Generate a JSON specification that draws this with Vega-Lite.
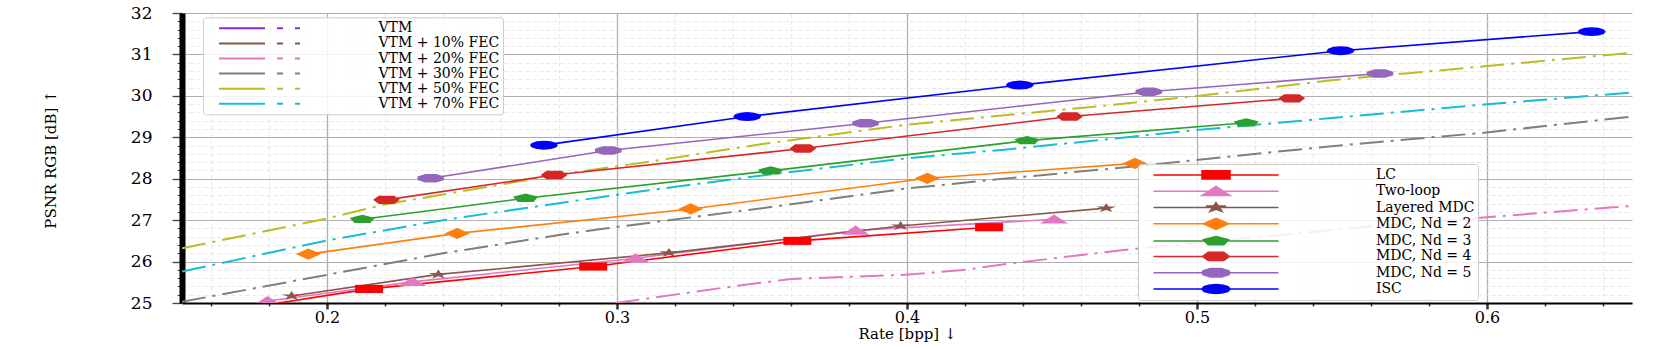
{
  "$schema": "https://vega.github.io/schema/vega-lite/v6.json",
  "width": 1450,
  "height": 290,
  "autosize": {"type": "none"},
  "padding": {"left": 182, "top": 13, "right": 30, "bottom": 46},
  "background": "white",
  "config": {"view": {"stroke": null}, "font": "DejaVu Serif"},
  "datasets": {
    "methods": [
      {"series": "LC", "rate": 0.165, "psnr": 24.8},
      {"series": "LC", "rate": 0.2145, "psnr": 25.34},
      {"series": "LC", "rate": 0.2918, "psnr": 25.88},
      {"series": "LC", "rate": 0.3622, "psnr": 26.5},
      {"series": "LC", "rate": 0.4283, "psnr": 26.83},
      {"series": "Two-loop", "rate": 0.1795, "psnr": 25.05},
      {"series": "Two-loop", "rate": 0.2294, "psnr": 25.51},
      {"series": "Two-loop", "rate": 0.3064, "psnr": 26.08},
      {"series": "Two-loop", "rate": 0.3823, "psnr": 26.75},
      {"series": "Two-loop", "rate": 0.4507, "psnr": 27.02},
      {"series": "Layered MDC", "rate": 0.1878, "psnr": 25.17},
      {"series": "Layered MDC", "rate": 0.2384, "psnr": 25.69},
      {"series": "Layered MDC", "rate": 0.3179, "psnr": 26.21},
      {"series": "Layered MDC", "rate": 0.3978, "psnr": 26.86},
      {"series": "Layered MDC", "rate": 0.4687, "psnr": 27.29},
      {"series": "MDC, Nd = 2", "rate": 0.1936, "psnr": 26.18},
      {"series": "MDC, Nd = 2", "rate": 0.2449, "psnr": 26.68},
      {"series": "MDC, Nd = 2", "rate": 0.3254, "psnr": 27.27},
      {"series": "MDC, Nd = 2", "rate": 0.407, "psnr": 28.01},
      {"series": "MDC, Nd = 2", "rate": 0.4786, "psnr": 28.37},
      {"series": "MDC, Nd = 3", "rate": 0.2122, "psnr": 27.02},
      {"series": "MDC, Nd = 3", "rate": 0.2685, "psnr": 27.53},
      {"series": "MDC, Nd = 3", "rate": 0.353, "psnr": 28.19},
      {"series": "MDC, Nd = 3", "rate": 0.4414, "psnr": 28.92},
      {"series": "MDC, Nd = 3", "rate": 0.517, "psnr": 29.35},
      {"series": "MDC, Nd = 4", "rate": 0.2205, "psnr": 27.49},
      {"series": "MDC, Nd = 4", "rate": 0.2783, "psnr": 28.09},
      {"series": "MDC, Nd = 4", "rate": 0.3641, "psnr": 28.73},
      {"series": "MDC, Nd = 4", "rate": 0.4561, "psnr": 29.5},
      {"series": "MDC, Nd = 4", "rate": 0.5327, "psnr": 29.94},
      {"series": "MDC, Nd = 5", "rate": 0.2358, "psnr": 28.01},
      {"series": "MDC, Nd = 5", "rate": 0.297, "psnr": 28.68},
      {"series": "MDC, Nd = 5", "rate": 0.3857, "psnr": 29.34},
      {"series": "MDC, Nd = 5", "rate": 0.4834, "psnr": 30.1},
      {"series": "MDC, Nd = 5", "rate": 0.5631, "psnr": 30.54},
      {"series": "ISC", "rate": 0.2748, "psnr": 28.81},
      {"series": "ISC", "rate": 0.3449, "psnr": 29.5},
      {"series": "ISC", "rate": 0.4389, "psnr": 30.26},
      {"series": "ISC", "rate": 0.5495, "psnr": 31.09},
      {"series": "ISC", "rate": 0.6361, "psnr": 31.55}
    ],
    "vtm": [
      {"fec": "VTM + 50% FEC", "rate": 0.15, "psnr": 26.32},
      {"fec": "VTM + 50% FEC", "rate": 0.2, "psnr": 27.04},
      {"fec": "VTM + 50% FEC", "rate": 0.22, "psnr": 27.38},
      {"fec": "VTM + 50% FEC", "rate": 0.24, "psnr": 27.62},
      {"fec": "VTM + 50% FEC", "rate": 0.28, "psnr": 28.1},
      {"fec": "VTM + 50% FEC", "rate": 0.311, "psnr": 28.41},
      {"fec": "VTM + 50% FEC", "rate": 0.3513, "psnr": 28.85},
      {"fec": "VTM + 50% FEC", "rate": 0.3995, "psnr": 29.3},
      {"fec": "VTM + 50% FEC", "rate": 0.4317, "psnr": 29.52},
      {"fec": "VTM + 50% FEC", "rate": 0.4662, "psnr": 29.75},
      {"fec": "VTM + 50% FEC", "rate": 0.4993, "psnr": 29.99},
      {"fec": "VTM + 50% FEC", "rate": 0.5469, "psnr": 30.38},
      {"fec": "VTM + 50% FEC", "rate": 0.6, "psnr": 30.72},
      {"fec": "VTM + 50% FEC", "rate": 0.65, "psnr": 31.04},
      {"fec": "VTM + 70% FEC", "rate": 0.15, "psnr": 25.76},
      {"fec": "VTM + 70% FEC", "rate": 0.2, "psnr": 26.51},
      {"fec": "VTM + 70% FEC", "rate": 0.24, "psnr": 27.0},
      {"fec": "VTM + 70% FEC", "rate": 0.28, "psnr": 27.41},
      {"fec": "VTM + 70% FEC", "rate": 0.311, "psnr": 27.72},
      {"fec": "VTM + 70% FEC", "rate": 0.3513, "psnr": 28.09},
      {"fec": "VTM + 70% FEC", "rate": 0.3995, "psnr": 28.49},
      {"fec": "VTM + 70% FEC", "rate": 0.4317, "psnr": 28.69},
      {"fec": "VTM + 70% FEC", "rate": 0.4662, "psnr": 28.93},
      {"fec": "VTM + 70% FEC", "rate": 0.4993, "psnr": 29.17},
      {"fec": "VTM + 70% FEC", "rate": 0.5455, "psnr": 29.46},
      {"fec": "VTM + 70% FEC", "rate": 0.599, "psnr": 29.79},
      {"fec": "VTM + 70% FEC", "rate": 0.65, "psnr": 30.08},
      {"fec": "VTM + 30% FEC", "rate": 0.15, "psnr": 25.03},
      {"fec": "VTM + 30% FEC", "rate": 0.2, "psnr": 25.68},
      {"fec": "VTM + 30% FEC", "rate": 0.24, "psnr": 26.2},
      {"fec": "VTM + 30% FEC", "rate": 0.28, "psnr": 26.64},
      {"fec": "VTM + 30% FEC", "rate": 0.2938, "psnr": 26.78},
      {"fec": "VTM + 30% FEC", "rate": 0.3513, "psnr": 27.3},
      {"fec": "VTM + 30% FEC", "rate": 0.3995, "psnr": 27.76},
      {"fec": "VTM + 30% FEC", "rate": 0.4317, "psnr": 27.99},
      {"fec": "VTM + 30% FEC", "rate": 0.4835, "psnr": 28.33},
      {"fec": "VTM + 30% FEC", "rate": 0.4993, "psnr": 28.45},
      {"fec": "VTM + 30% FEC", "rate": 0.5455, "psnr": 28.78},
      {"fec": "VTM + 30% FEC", "rate": 0.599, "psnr": 29.11},
      {"fec": "VTM + 30% FEC", "rate": 0.65, "psnr": 29.5},
      {"fec": "VTM + 20% FEC", "rate": 0.2995, "psnr": 25.0},
      {"fec": "VTM + 20% FEC", "rate": 0.3398, "psnr": 25.4},
      {"fec": "VTM + 20% FEC", "rate": 0.36, "psnr": 25.58},
      {"fec": "VTM + 20% FEC", "rate": 0.3995, "psnr": 25.68},
      {"fec": "VTM + 20% FEC", "rate": 0.4202, "psnr": 25.8},
      {"fec": "VTM + 20% FEC", "rate": 0.4317, "psnr": 25.92},
      {"fec": "VTM + 20% FEC", "rate": 0.4662, "psnr": 26.21},
      {"fec": "VTM + 20% FEC", "rate": 0.479, "psnr": 26.31},
      {"fec": "VTM + 20% FEC", "rate": 0.56, "psnr": 26.85},
      {"fec": "VTM + 20% FEC", "rate": 0.6435, "psnr": 27.31},
      {"fec": "VTM + 20% FEC", "rate": 0.65, "psnr": 27.34}
    ]
  },
  "encoding": {
    "x": {
      "field": "rate", "type": "quantitative", "title": "Rate [bpp] ↓",
      "scale": {"domain": [0.15, 0.65], "nice": false, "zero": false},
      "axis": {
        "values": [0.16, 0.18, 0.2, 0.22, 0.24, 0.26, 0.28, 0.3, 0.32, 0.34, 0.36, 0.38, 0.4, 0.42, 0.44, 0.46, 0.48, 0.5, 0.52, 0.54, 0.56, 0.58, 0.6, 0.62, 0.64],
        "labelExpr": "abs(datum.value*10 - round(datum.value*10)) < 0.001 ? format(datum.value, '.1f') : ''",
        "labelFont": "DejaVu Serif", "labelFontSize": 16, "labelColor": "#000",
        "labelPadding": 0, "labelOverlap": false, "labelFlush": false,
        "domainColor": "#000", "domainWidth": 2,
        "tickColor": "#333",
        "tickSize": {"condition": {"test": "abs(datum.value*10 - round(datum.value*10)) < 0.001", "value": 6}, "value": 3},
        "tickWidth": {"condition": {"test": "abs(datum.value*10 - round(datum.value*10)) < 0.001", "value": 2.5}, "value": 1.5},
        "grid": true,
        "gridColor": {"condition": {"test": "abs(datum.value*10 - round(datum.value*10)) < 0.001", "value": "#b0b0b0"}, "value": "#e2e2e2"},
        "gridDash": {"condition": {"test": "abs(datum.value*10 - round(datum.value*10)) < 0.001", "value": []}, "value": [4, 3]},
        "gridWidth": {"condition": {"test": "abs(datum.value*10 - round(datum.value*10)) < 0.001", "value": 1.3}, "value": 0.8},
        "titleFont": "DejaVu Serif", "titleFontSize": 15, "titleFontWeight": "normal", "titleColor": "#000",
        "titleY": 30, "titleBaseline": "middle"
      }
    },
    "y": {
      "field": "psnr", "type": "quantitative", "title": "PSNR RGB [dB] ↑",
      "scale": {"domain": [25, 32], "nice": false, "zero": false},
      "axis": {
        "values": [25, 25.2, 25.4, 25.6, 25.8, 26, 26.2, 26.4, 26.6, 26.8, 27, 27.2, 27.4, 27.6, 27.8, 28, 28.2, 28.4, 28.6, 28.8, 29, 29.2, 29.4, 29.6, 29.8, 30, 30.2, 30.4, 30.6, 30.8, 31, 31.2, 31.4, 31.6, 31.8, 32],
        "labelExpr": "abs(datum.value - round(datum.value)) < 0.001 ? format(datum.value, 'd') : ''",
        "labelFont": "DejaVu Serif", "labelFontSize": 17, "labelColor": "#000",
        "labelPadding": 20, "labelOverlap": false, "labelFlush": false,
        "domainColor": "#000", "domainWidth": 6,
        "tickColor": "#444",
        "tickSize": {"condition": {"test": "abs(datum.value - round(datum.value)) < 0.001", "value": 10}, "value": 5},
        "tickWidth": {"condition": {"test": "abs(datum.value - round(datum.value)) < 0.001", "value": 1.3}, "value": 1},
        "grid": true,
        "gridColor": {"condition": {"test": "abs(datum.value - round(datum.value)) < 0.001", "value": "#b0b0b0"}, "value": "#e2e2e2"},
        "gridDash": {"condition": {"test": "abs(datum.value - round(datum.value)) < 0.001", "value": []}, "value": [4, 3]},
        "gridWidth": {"condition": {"test": "abs(datum.value - round(datum.value)) < 0.001", "value": 1.2}, "value": 0.8},
        "titleFont": "DejaVu Serif", "titleFontSize": 15, "titleFontWeight": "normal", "titleColor": "#000",
        "titleX": -132, "titleY": 146, "titleAlign": "center", "titleBaseline": "middle"
      }
    }
  },
  "layer": [
    {
      "data": {"name": "vtm"},
      "mark": {"type": "line", "clip": true, "strokeWidth": 2, "strokeDash": [24, 7, 3, 7]},
      "encoding": {
        "color": {
          "field": "fec", "type": "nominal", "legend": null,
          "scale": {"domain": ["VTM", "VTM + 10% FEC", "VTM + 20% FEC", "VTM + 30% FEC", "VTM + 50% FEC", "VTM + 70% FEC"],
                    "range": ["#8a2be2", "#8c564b", "#e377c2", "#7f7f7f", "#bcbd22", "#17becf"]}
        }
      }
    },
    {
      "data": {"name": "vtm"},
      "transform": [{"filter": "false"}],
      "mark": {"type": "line", "strokeWidth": 2},
      "encoding": {
        "color": {
          "field": "fec", "type": "nominal",
          "scale": {"domain": ["VTM", "VTM + 10% FEC", "VTM + 20% FEC", "VTM + 30% FEC", "VTM + 50% FEC", "VTM + 70% FEC"],
                    "range": ["#8a2be2", "#8c564b", "#e377c2", "#7f7f7f", "#bcbd22", "#17becf"]},
          "legend": {
            "title": null, "orient": "none", "legendX": 21, "legendY": 4.3,
            "symbolType": "M-5.786,0H0.786M2.5,0H3.357M5.071,0H5.786",
            "symbolSize": 196, "symbolStrokeWidth": 2, "symbolOffset": 45.5,
            "labelOffset": 111, "rowPadding": 0.1, "padding": 3,
            "labelFont": "DejaVu Serif", "labelFontSize": 14, "labelColor": "#000", "labelLimit": 600,
            "fillColor": "rgba(255,255,255,0.85)", "strokeColor": "#cccccc", "cornerRadius": 3
          }
        }
      }
    },
    {
      "data": {"name": "methods"},
      "mark": {"type": "line", "clip": true, "strokeWidth": 1.6},
      "encoding": {
        "color": {
          "field": "series", "type": "nominal", "legend": null,
          "scale": {"domain": ["LC", "Two-loop", "Layered MDC", "MDC, Nd = 2", "MDC, Nd = 3", "MDC, Nd = 4", "MDC, Nd = 5", "ISC"],
                    "range": ["#ff0000", "#e377c2", "#8c564b", "#ff7f0e", "#2ca02c", "#d62728", "#9467bd", "#0000ff"]}
        }
      }
    },
    {
      "data": {"name": "methods"},
      "mark": {"type": "point", "filled": true, "opacity": 1, "clip": true, "size": 784},
      "encoding": {
        "color": {
          "field": "series", "type": "nominal", "legend": null,
          "scale": {"domain": ["LC", "Two-loop", "Layered MDC", "MDC, Nd = 2", "MDC, Nd = 3", "MDC, Nd = 4", "MDC, Nd = 5", "ISC"],
                    "range": ["#ff0000", "#e377c2", "#8c564b", "#ff7f0e", "#2ca02c", "#d62728", "#9467bd", "#0000ff"]}
        },
        "shape": {
          "field": "series", "type": "nominal", "legend": null,
          "scale": {"domain": ["LC", "Two-loop", "Layered MDC", "MDC, Nd = 2", "MDC, Nd = 3", "MDC, Nd = 4", "MDC, Nd = 5", "ISC"],
                    "range": [
                      "M-1,-0.29H1V0.29H-1Z",
                      "M0,-0.35L1,0.3H-1Z",
                      "M0,-0.35L0.168,-0.108L0.713,-0.108L0.272,0.041L0.441,0.283L0,0.134L-0.441,0.283L-0.272,0.041L-0.713,-0.108L-0.168,-0.108Z",
                      "M0,-0.4L0.9,0L0,0.4L-0.9,0Z",
                      "M0,-0.33L0.9,-0.1L0.56,0.267L-0.56,0.267L-0.9,-0.1Z",
                      "M-0.95,0L-0.55,-0.3L0.55,-0.3L0.95,0L0.55,0.3L-0.55,0.3Z",
                      "M-0.95,-0.12L-0.4,-0.3L0.4,-0.3L0.95,-0.12L0.95,0.12L0.4,0.3L-0.4,0.3L-0.95,0.12Z",
                      "M1,0L0.866,0.16L0.5,0.277L0,0.32L-0.5,0.277L-0.866,0.16L-1,0L-0.866,-0.16L-0.5,-0.277L0,-0.32L0.5,-0.277L0.866,-0.16Z"
                    ]}
        }
      }
    },
    {
      "data": {"name": "methods"},
      "transform": [{"filter": "false"}],
      "mark": {"type": "point", "filled": true, "opacity": 1},
      "encoding": {
        "fill": {
          "field": "series", "type": "nominal",
          "scale": {"domain": ["LC", "Two-loop", "Layered MDC", "MDC, Nd = 2", "MDC, Nd = 3", "MDC, Nd = 4", "MDC, Nd = 5", "ISC"],
                    "range": ["#ff0000", "#e377c2", "#8c564b", "#ff7f0e", "#2ca02c", "#d62728", "#9467bd", "#0000ff"]},
          "legend": {
            "title": null, "orient": "none", "legendX": 956, "legendY": 150.9,
            "symbolSize": 196, "symbolStrokeWidth": 1.5, "symbolOffset": 67,
            "labelOffset": 152, "rowPadding": 0.3, "padding": 3,
            "labelFont": "DejaVu Serif", "labelFontSize": 14, "labelColor": "#000", "labelLimit": 600,
            "fillColor": "rgba(255,255,255,0.85)", "strokeColor": "#cccccc", "cornerRadius": 3
          }
        },
        "stroke": {
          "field": "series", "type": "nominal",
          "scale": {"domain": ["LC", "Two-loop", "Layered MDC", "MDC, Nd = 2", "MDC, Nd = 3", "MDC, Nd = 4", "MDC, Nd = 5", "ISC"],
                    "range": ["#ff0000", "#e377c2", "#8c564b", "#ff7f0e", "#2ca02c", "#d62728", "#9467bd", "#0000ff"]},
          "legend": {
            "title": null, "orient": "none", "legendX": 956, "legendY": 150.9,
            "symbolSize": 196, "symbolStrokeWidth": 1.5, "symbolOffset": 67,
            "labelOffset": 152, "rowPadding": 0.3, "padding": 3,
            "labelFont": "DejaVu Serif", "labelFontSize": 14, "labelColor": "#000", "labelLimit": 600,
            "fillColor": "rgba(255,255,255,0.85)", "strokeColor": "#cccccc", "cornerRadius": 3
          }
        },
        "shape": {
          "field": "series", "type": "nominal",
          "scale": {"domain": ["LC", "Two-loop", "Layered MDC", "MDC, Nd = 2", "MDC, Nd = 3", "MDC, Nd = 4", "MDC, Nd = 5", "ISC"],
                    "range": [
                      "M-8.93,0H8.93M-2,-0.58H2V0.58H-2Z",
                      "M-8.93,0H8.93M0,-0.7L2,0.6H-2Z",
                      "M-8.93,0H8.93M0,-0.7L0.336,-0.216L1.426,-0.216L0.544,0.082L0.882,0.566L0,0.268L-0.882,0.566L-0.544,0.082L-1.426,-0.216L-0.336,-0.216Z",
                      "M-8.93,0H8.93M0,-0.8L1.8,0L0,0.8L-1.8,0Z",
                      "M-8.93,0H8.93M0,-0.66L1.8,-0.2L1.12,0.534L-1.12,0.534L-1.8,-0.2Z",
                      "M-8.93,0H8.93M-1.9,0L-1.1,-0.6L1.1,-0.6L1.9,0L1.1,0.6L-1.1,0.6Z",
                      "M-8.93,0H8.93M-1.9,-0.24L-0.8,-0.6L0.8,-0.6L1.9,-0.24L1.9,0.24L0.8,0.6L-0.8,0.6L-1.9,0.24Z",
                      "M-8.93,0H8.93M2,0L1.732,0.32L1,0.554L0,0.64L-1,0.554L-1.732,0.32L-2,0L-1.732,-0.32L-1,-0.554L0,-0.64L1,-0.554L1.732,-0.32Z"
                    ]},
          "legend": {
            "title": null, "orient": "none", "legendX": 956, "legendY": 150.9,
            "symbolSize": 196, "symbolStrokeWidth": 1.5, "symbolOffset": 67,
            "labelOffset": 152, "rowPadding": 0.3, "padding": 3,
            "labelFont": "DejaVu Serif", "labelFontSize": 14, "labelColor": "#000", "labelLimit": 600,
            "fillColor": "rgba(255,255,255,0.85)", "strokeColor": "#cccccc", "cornerRadius": 3
          }
        }
      }
    }
  ],
  "resolve": {"scale": {"color": "independent", "shape": "independent", "fill": "independent", "stroke": "independent"}}
}
